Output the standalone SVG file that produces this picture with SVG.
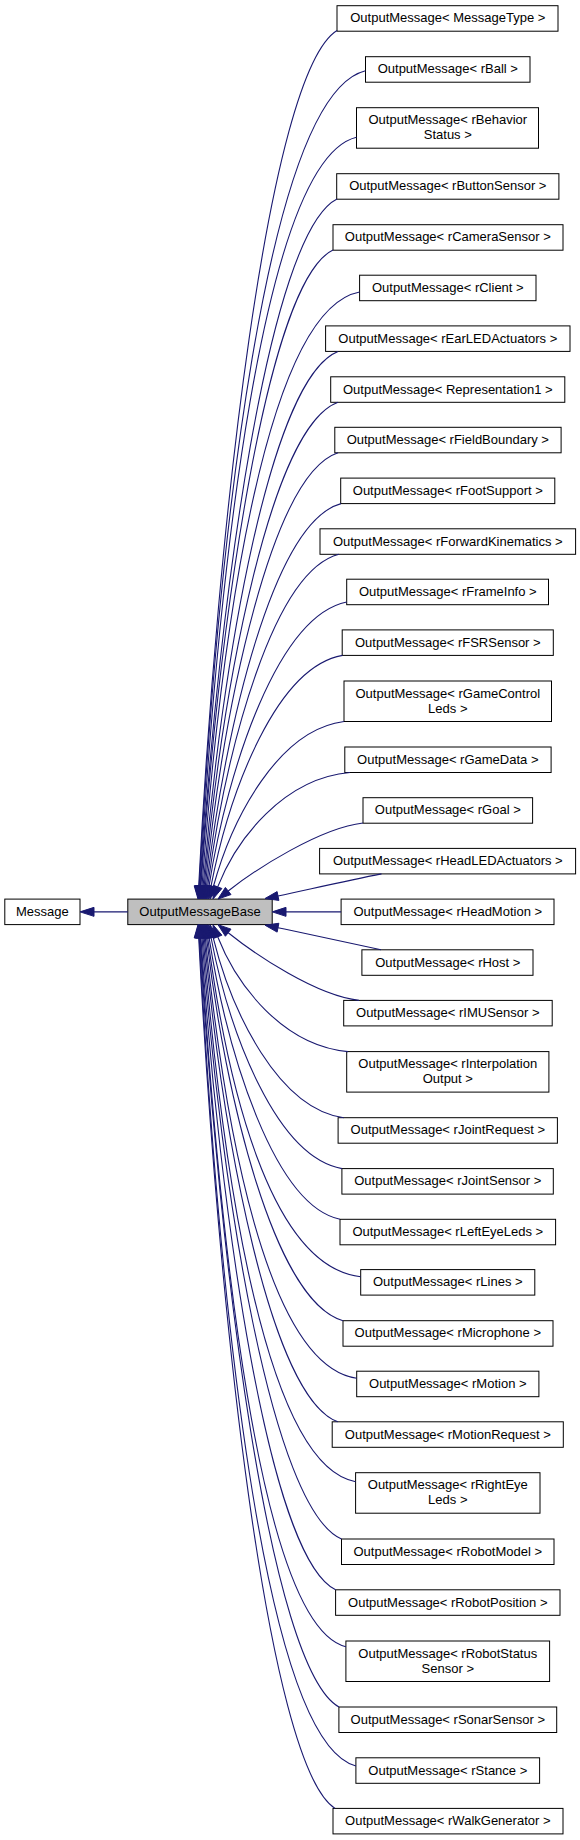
<svg xmlns="http://www.w3.org/2000/svg" width="580" height="1840" viewBox="0 0 580 1840">
<style>
.node rect{fill:#ffffff;stroke:#000000;stroke-width:1}
#n_base rect{fill:#bfbfbf}
text{font-family:"Liberation Sans",Arial,Helvetica,sans-serif;font-size:13px;fill:#000000;text-anchor:middle}
.edges path{fill:none;stroke:#191970;stroke-width:1.1}
.edges polygon{fill:#191970;stroke:#191970;stroke-width:1}
</style>
<rect x="0" y="0" width="580" height="1840" fill="#ffffff"/>
<g id="nodes">
<g id="n_message" class="node"><rect x="4.8" y="899.1" width="75.2" height="25.5"/><text x="42.4" y="915.85">Message</text></g>
<g id="n_base" class="node"><rect x="127.8" y="899.1" width="144.4" height="25.5"/><text x="200" y="915.85">OutputMessageBase</text></g>
<g id="n_MessageType" class="node"><rect x="337" y="5.7" width="221" height="25.5"/><text x="447.8" y="22.45">OutputMessage&lt; MessageType &gt;</text></g>
<g id="n_rBall" class="node"><rect x="365.5" y="56.7" width="164.5" height="25.5"/><text x="447.8" y="73.45">OutputMessage&lt; rBall &gt;</text></g>
<g id="n_rBehavior" class="node"><rect x="356.5" y="107.7" width="182" height="40.5"/><text x="447.8" y="124.45">OutputMessage&lt; rBehavior</text><text x="447.8" y="139.45">Status &gt;</text></g>
<g id="n_rButtonSensor" class="node"><rect x="336.7" y="173.7" width="222.2" height="25.5"/><text x="447.8" y="190.45">OutputMessage&lt; rButtonSensor &gt;</text></g>
<g id="n_rCameraSensor" class="node"><rect x="333" y="224.7" width="230" height="25.5"/><text x="447.8" y="241.45">OutputMessage&lt; rCameraSensor &gt;</text></g>
<g id="n_rClient" class="node"><rect x="359.6" y="275.2" width="176.4" height="25.5"/><text x="447.8" y="291.95">OutputMessage&lt; rClient &gt;</text></g>
<g id="n_rEarLEDActuators" class="node"><rect x="325.6" y="325.9" width="244.4" height="25.5"/><text x="447.8" y="342.65">OutputMessage&lt; rEarLEDActuators &gt;</text></g>
<g id="n_Representation1" class="node"><rect x="330.7" y="376.8" width="234.1" height="25.5"/><text x="447.8" y="393.55">OutputMessage&lt; Representation1 &gt;</text></g>
<g id="n_rFieldBoundary" class="node"><rect x="334.8" y="427.3" width="226.3" height="25.5"/><text x="447.8" y="444.05">OutputMessage&lt; rFieldBoundary &gt;</text></g>
<g id="n_rFootSupport" class="node"><rect x="340.7" y="478.1" width="214.1" height="25.5"/><text x="447.8" y="494.85">OutputMessage&lt; rFootSupport &gt;</text></g>
<g id="n_rForwardKinematics" class="node"><rect x="320" y="528.8" width="255.6" height="25.5"/><text x="447.8" y="545.55">OutputMessage&lt; rForwardKinematics &gt;</text></g>
<g id="n_rFrameInfo" class="node"><rect x="346.7" y="579.2" width="201.8" height="25.5"/><text x="447.8" y="595.95">OutputMessage&lt; rFrameInfo &gt;</text></g>
<g id="n_rFSRSensor" class="node"><rect x="342.2" y="629.9" width="211.1" height="25.5"/><text x="447.8" y="646.65">OutputMessage&lt; rFSRSensor &gt;</text></g>
<g id="n_rGameControlLeds" class="node"><rect x="344" y="681" width="207.5" height="40.5"/><text x="447.8" y="697.75">OutputMessage&lt; rGameControl</text><text x="447.8" y="712.75">Leds &gt;</text></g>
<g id="n_rGameData" class="node"><rect x="344.8" y="747" width="206.3" height="25.5"/><text x="447.8" y="763.75">OutputMessage&lt; rGameData &gt;</text></g>
<g id="n_rGoal" class="node"><rect x="363" y="797.7" width="169.6" height="25.5"/><text x="447.8" y="814.45">OutputMessage&lt; rGoal &gt;</text></g>
<g id="n_rHeadLEDActuators" class="node"><rect x="319.6" y="848.4" width="256" height="25.5"/><text x="447.8" y="865.15">OutputMessage&lt; rHeadLEDActuators &gt;</text></g>
<g id="n_rHeadMotion" class="node"><rect x="341.1" y="899.1" width="212.9" height="25.5"/><text x="447.8" y="915.85">OutputMessage&lt; rHeadMotion &gt;</text></g>
<g id="n_rHost" class="node"><rect x="361.9" y="949.8" width="171.1" height="25.5"/><text x="447.8" y="966.55">OutputMessage&lt; rHost &gt;</text></g>
<g id="n_rIMUSensor" class="node"><rect x="343.7" y="1000.4" width="208.5" height="25.5"/><text x="447.8" y="1017.15">OutputMessage&lt; rIMUSensor &gt;</text></g>
<g id="n_rInterpolationOutput" class="node"><rect x="346.7" y="1051.6" width="202.2" height="40.5"/><text x="447.8" y="1068.35">OutputMessage&lt; rInterpolation</text><text x="447.8" y="1083.35">Output &gt;</text></g>
<g id="n_rJointRequest" class="node"><rect x="338.1" y="1117.7" width="219.3" height="25.5"/><text x="447.8" y="1134.45">OutputMessage&lt; rJointRequest &gt;</text></g>
<g id="n_rJointSensor" class="node"><rect x="341.9" y="1168.6" width="211.4" height="25.5"/><text x="447.8" y="1185.35">OutputMessage&lt; rJointSensor &gt;</text></g>
<g id="n_rLeftEyeLeds" class="node"><rect x="340" y="1219.3" width="215.6" height="25.5"/><text x="447.8" y="1236.05">OutputMessage&lt; rLeftEyeLeds &gt;</text></g>
<g id="n_rLines" class="node"><rect x="360.7" y="1269.6" width="174.1" height="25.5"/><text x="447.8" y="1286.35">OutputMessage&lt; rLines &gt;</text></g>
<g id="n_rMicrophone" class="node"><rect x="343" y="1320.7" width="210" height="25.5"/><text x="447.8" y="1337.45">OutputMessage&lt; rMicrophone &gt;</text></g>
<g id="n_rMotion" class="node"><rect x="356.7" y="1371.2" width="182.2" height="25.5"/><text x="447.8" y="1387.95">OutputMessage&lt; rMotion &gt;</text></g>
<g id="n_rMotionRequest" class="node"><rect x="332.2" y="1421.8" width="231.1" height="25.5"/><text x="447.8" y="1438.55">OutputMessage&lt; rMotionRequest &gt;</text></g>
<g id="n_rRightEyeLeds" class="node"><rect x="355.6" y="1472.7" width="184.4" height="40.5"/><text x="447.8" y="1489.45">OutputMessage&lt; rRightEye</text><text x="447.8" y="1504.45">Leds &gt;</text></g>
<g id="n_rRobotModel" class="node"><rect x="341.5" y="1539" width="212.5" height="25.5"/><text x="447.8" y="1555.75">OutputMessage&lt; rRobotModel &gt;</text></g>
<g id="n_rRobotPosition" class="node"><rect x="335.6" y="1589.8" width="224.4" height="25.5"/><text x="447.8" y="1606.55">OutputMessage&lt; rRobotPosition &gt;</text></g>
<g id="n_rRobotStatusSensor" class="node"><rect x="345.9" y="1641" width="203.7" height="40.5"/><text x="447.8" y="1657.75">OutputMessage&lt; rRobotStatus</text><text x="447.8" y="1672.75">Sensor &gt;</text></g>
<g id="n_rSonarSensor" class="node"><rect x="338.9" y="1707" width="217.8" height="25.5"/><text x="447.8" y="1723.75">OutputMessage&lt; rSonarSensor &gt;</text></g>
<g id="n_rStance" class="node"><rect x="355.9" y="1757.8" width="183.7" height="25.5"/><text x="447.8" y="1774.55">OutputMessage&lt; rStance &gt;</text></g>
<g id="n_rWalkGenerator" class="node"><rect x="333" y="1808.4" width="230" height="25.5"/><text x="447.8" y="1825.15">OutputMessage&lt; rWalkGenerator &gt;</text></g>
</g>
<g id="connectors" class="edges">
<path d="M127.8,911.85 L94,911.85"/><polygon points="94,907.35 80,911.85 94,916.35"/>
<path d="M341.1,911.85 L286,911.85"/><polygon points="286,907.35 272.2,911.85 286,916.35"/>
<path d="M337,30.5 C267.8,73.3 217.6,526.7 198.7,886"/><polygon points="194.2,885.8 198,899 203.2,886.2"/>
<path d="M365.5,70.7 C265.7,95.2 218.1,543.6 199.2,886"/><polygon points="194.7,885.75 198.5,899 203.7,886.25"/>
<path d="M356.5,137.3 C262.5,159.8 218.7,571.5 199.8,886"/><polygon points="195.3,885.7 199,899 204.3,886.3"/>
<path d="M337,199 C268.7,233.4 219.25,597.5 200.35,886"/><polygon points="195.86,885.7 199.5,899 204.84,886.3"/>
<path d="M333,250 C267,281.8 219.8,618.8 200.9,885.9"/><polygon points="196.4,885.6 200,899 205.4,886.2"/>
<path d="M359.6,292 C265,309.8 220.9,636.5 202,886"/><polygon points="197.5,885.6 201,899 206.5,886.3"/>
<path d="M338,351.4 C270.5,378.2 222,661.5 203.1,886"/><polygon points="198.6,885.6 202,899 207.6,886.3"/>
<path d="M338,402.3 C271.1,426.7 223.1,682.8 204.2,885.9"/><polygon points="199.7,885.5 203,899 208.7,886.3"/>
<path d="M338,452.8 C271.65,474.65 224.2,704 205.3,885.9"/><polygon points="200.8,885.4 204,899 209.8,886.4"/>
<path d="M341,503.6 C273.75,522.15 225.4,725 206.5,885.9"/><polygon points="202,885.4 205,899 211,886.4"/>
<path d="M339,554.3 C273.35,571.1 226.6,746.7 207.7,885.9"/><polygon points="203.2,885.3 206,899 212.2,886.5"/>
<path d="M346.7,602 C277.8,616.2 227.9,766.9 209,886.2"/><polygon points="204.56,885.5 207,899 213.44,886.9"/>
<path d="M342.5,655.4 C276.75,667.05 229.9,789.2 211,886.2"/><polygon points="206.6,885.3 208.5,899 215.4,887.1"/>
<path d="M344,721.5 C278.7,729.8 232.3,817.2 213.4,886.5"/><polygon points="209.06,885.3 210,899 217.74,887.7"/>
<path d="M350,772.5 C283.8,778.2 236.4,838.9 217.7,886.9"/><polygon points="213.5,885.3 213,899 221.9,888.5"/>
<path d="M363,823 C320,828 256,869 228.2,891"/><polygon points="225.4,887.45 218,899 231,894.55"/>
<path d="M381.5,873.9 C348,880.5 313,888.5 278,896"/><polygon points="277.1,891.6 265,898.5 278.9,900.4"/>
<path d="M381,949.8 C348,943 313,935 278,927.7"/><polygon points="278.86,923.28 265,925.2 277.14,932.12"/>
<path d="M359,1000.4 C316,995.5 256,955 228.2,932.7"/><polygon points="225.4,936.25 218,924.7 231,929.15"/>
<path d="M348,1051.6 C282.8,1045.8 236.5,984.9 217.7,936.8"/><polygon points="213.5,938.4 213,924.7 221.9,935.2"/>
<path d="M343.7,1117.7 C278.4,1108.5 232,1013 213.1,937.3"/><polygon points="208.7,938.4 210,924.7 217.5,936.2"/>
<path d="M342,1168.6 C276.5,1156.95 229.9,1034.5 211,937.5"/><polygon points="206.6,938.4 208.5,924.7 215.4,936.6"/>
<path d="M340,1219.3 C274.5,1205.4 227.95,1056 209.05,937.6"/><polygon points="204.6,938.3 207,924.7 213.5,936.9"/>
<path d="M360.7,1276.7 C268.9,1266.5 226.6,1080 207.7,937.6"/><polygon points="203.2,938.2 206,924.7 212.2,937"/>
<path d="M343,1320.7 C274.75,1301.35 225.4,1098.5 206.5,937.6"/><polygon points="202,938.1 205,924.7 211,937.1"/>
<path d="M356.7,1378.3 C265.9,1365.1 224.2,1122.7 205.3,937.6"/><polygon points="200.8,938.1 204,924.7 209.8,937.1"/>
<path d="M337.8,1421.8 C271,1397.3 223.1,1140.9 204.2,937.6"/><polygon points="199.7,938 203,924.7 208.7,937.2"/>
<path d="M355.6,1481.7 C264.1,1465.4 222,1166.1 203.1,937.65"/><polygon points="198.6,938 202,924.7 207.6,937.3"/>
<path d="M341.5,1539 C271.75,1508.9 220.9,1190.2 202,937.65"/><polygon points="197.5,938 201,924.7 206.5,937.3"/>
<path d="M335.6,1589.8 C268.25,1556.9 219.8,1211.5 200.9,937.7"/><polygon points="196.4,938 200,924.7 205.4,937.4"/>
<path d="M345.9,1646.7 C258.6,1625.4 219.2,1235.5 200.3,937.7"/><polygon points="195.8,938 199.5,924.7 204.8,937.4"/>
<path d="M339,1707 C269.4,1668.5 218.7,1260.8 199.8,937.7"/><polygon points="195.3,937.96 199,924.7 204.3,937.44"/>
<path d="M355.9,1766 C261.9,1741.2 218.1,1285.6 199.2,937.7"/><polygon points="194.7,937.95 198.5,924.7 203.7,937.45"/>
<path d="M335,1808.4 C266.85,1764.96 217.6,1303.4 198.7,937.7"/><polygon points="194.2,937.9 198,924.7 203.2,937.5"/>
</g>
</svg>
